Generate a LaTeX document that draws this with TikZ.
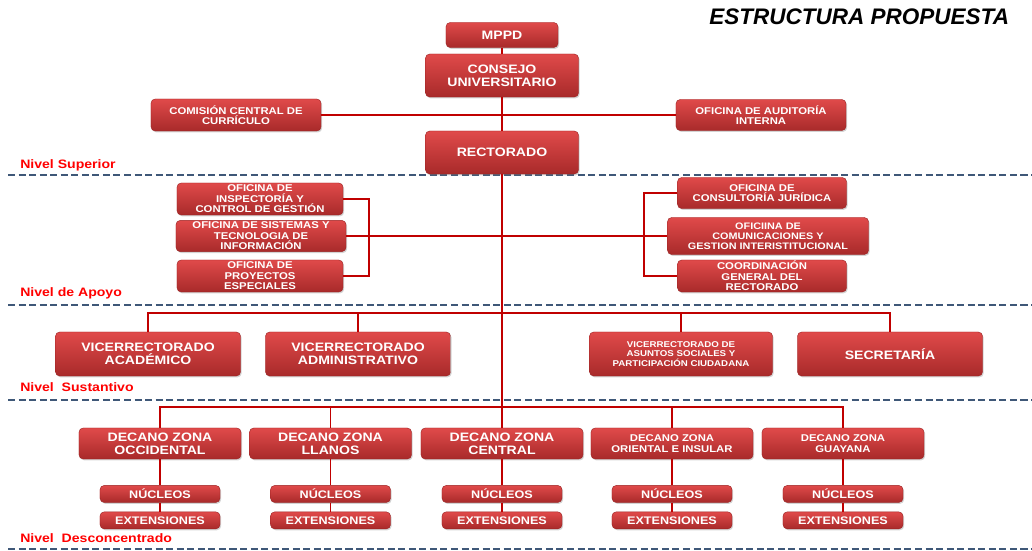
\documentclass[tikz,border=0pt]{standalone}
\usepackage{fontspec}
\setmainfont{Liberation Sans}[FakeStretch=1.15]
\newfontfamily\titlefont{Liberation Sans}
\usetikzlibrary{positioning, shadows}
\definecolor{boxtop}{HTML}{E04A4A}
\definecolor{boxbot}{HTML}{A82A2A}
\definecolor{boxedge}{HTML}{9A2222}
\definecolor{linkred}{HTML}{C00000}
\definecolor{sepblue}{HTML}{3F5878}
\definecolor{levelred}{HTML}{FF0000}

\begin{document}
\begin{tikzpicture}[
    x=0.025cm, y=-0.025cm,
    node distance=0.225cm,
    unit/.style={draw=boxedge, line width=0.3pt, rounded corners=3pt, top color=boxtop, bottom color=boxbot, text=white, align=center, inner sep=0pt, drop shadow={opacity=0.35, shadow xshift=0.8pt, shadow yshift=-1pt}},
    bigtxt/.style={font=\fontsize{8.7}{9.2}\selectfont\bfseries},
    midtxt/.style={font=\fontsize{7}{7.4}\selectfont\bfseries},
    smalltxt/.style={font=\fontsize{6}{6.6}\selectfont\bfseries},
    subbox/.style={unit, minimum width=3cm, minimum height=0.425cm, font=\fontsize{7.8}{8}\selectfont\bfseries},
    link/.style={draw=linkred, line width=1.3pt},
    sepline/.style={draw=sepblue, line width=1.2pt, dash pattern=on 5pt off 2.5pt},
    level/.style={anchor=west, text=levelred, inner sep=0pt, font=\fontsize{8.7}{9}\selectfont\bfseries},
]
\useasboundingbox (0,0) rectangle (1032,551);

% Level separators
\foreach \y in {175, 305, 400, 549} {
    \draw[sepline] (8,\y) -- (1032,\y);
}

\node[anchor=east, font=\titlefont\fontsize{16}{18}\selectfont\bfseries\itshape] (title) at (1014,17) {ESTRUCTURA PROPUESTA};

% Nivel Superior
\node[unit, bigtxt, minimum width=2.8cm, minimum height=0.625cm] (mppd) at (502,35) {MPPD};
\node[unit, bigtxt, minimum width=3.825cm, minimum height=1.075cm] (consejo) at (502,75.5) {CONSEJO\\UNIVERSITARIO};
\node[unit, midtxt, minimum width=4.25cm, minimum height=0.8cm] (comision) at (236,115) {COMISIÓN CENTRAL DE\\CURRÍCULO};
\node[unit, midtxt, minimum width=4.25cm, minimum height=0.775cm] (auditoria) at (761,115) {OFICINA DE AUDITORÍA\\INTERNA};
\node[unit, bigtxt, minimum width=3.825cm, minimum height=1.075cm] (rectorado) at (502,152.5) {RECTORADO};

% Nivel de Apoyo
\node[unit, midtxt, minimum width=4.15cm, minimum height=0.8cm] (insp) at (260,199) {OFICINA DE\\INSPECTORÍA Y\\CONTROL DE GESTIÓN};
\node[unit, midtxt, minimum width=4.25cm, minimum height=0.78cm] (sist) at (261,236) {OFICINA DE SISTEMAS Y\\TECNOLOGIA DE\\INFORMACIÓN};
\node[unit, midtxt, minimum width=4.15cm, minimum height=0.8cm] (proy) at (260,276) {OFICINA DE\\PROYECTOS\\ESPECIALES};
\node[unit, midtxt, minimum width=4.225cm, minimum height=0.775cm] (consul) at (762,193) {OFICINA DE\\CONSULTORÍA JURÍDICA};
\node[unit, font=\fontsize{6.7}{7.1}\selectfont\bfseries, minimum width=5.025cm, minimum height=0.925cm] (comunic) at (768,236) {OFICIINA DE\\COMUNICACIONES Y\\GESTION INTERISTITUCIONAL};
\node[unit, midtxt, minimum width=4.225cm, minimum height=0.8cm] (coord) at (762,276) {COORDINACIÓN\\GENERAL DEL\\RECTORADO};

% Nivel Sustantivo
\node[unit, bigtxt, minimum width=4.625cm, minimum height=1.1cm] (vaca) at (148,354) {VICERRECTORADO\\ACADÉMICO};
\node[unit, bigtxt, minimum width=4.625cm, minimum height=1.1cm] (vadm) at (358,354) {VICERRECTORADO\\ADMINISTRATIVO};
\node[unit, smalltxt, minimum width=4.575cm, minimum height=1.1cm] (vasoc) at (681,354) {VICERRECTORADO DE\\ASUNTOS SOCIALES Y\\PARTICIPACIÓN CIUDADANA};
\node[unit, bigtxt, minimum width=4.625cm, minimum height=1.1cm] (secre) at (890,354) {SECRETARÍA};

% Nivel Desconcentrado
\node[unit, bigtxt, minimum width=4.05cm, minimum height=0.775cm] (occ) at (160,443.5) {DECANO ZONA\\OCCIDENTAL};
\node[unit, bigtxt, minimum width=4.05cm, minimum height=0.775cm] (lla) at (330.5,443.5) {DECANO ZONA\\LLANOS};
\node[unit, bigtxt, minimum width=4.05cm, minimum height=0.775cm] (cen) at (502,443.5) {DECANO ZONA\\CENTRAL};
\node[unit, midtxt, minimum width=4.05cm, minimum height=0.775cm] (ori) at (672,443.5) {DECANO ZONA\\ORIENTAL E INSULAR};
\node[unit, midtxt, minimum width=4.05cm, minimum height=0.775cm] (guy) at (843,443.5) {DECANO ZONA\\GUAYANA};

\coordinate (brl) at (369,236);
\coordinate (brr) at (644,236);
\coordinate (sbar) at (502,313);
\coordinate (dbar) at (502,407);

\draw[link] (mppd) -- (consejo);
\draw[link] (consejo) -- (rectorado);
\draw[link] (comision) -- (auditoria);
\draw[link] (rectorado) -- (cen);
\draw[link] (insp.east) -| (brl) |- (proy.east);
\draw[link] (consul.west) -| (brr) |- (coord.west);
\draw[link] (sist) -- (comunic);
\draw[link] (vaca.north) |- (sbar) -| (secre.north);
\draw[link] (occ.north) |- (dbar) -| (guy.north);
\foreach \n in {vadm, vasoc} {
    \draw[link] (\n.north) -- (\n.north |- sbar);
}
\foreach \n in {lla, ori} {
    \draw[link] (\n.north) -- (\n.north |- dbar);
}

\foreach \z in {occ, lla, cen, ori, guy} {
    \node[subbox, below=0.65cm of \z] (\z-nuc) {NÚCLEOS};
    \node[subbox, below=of \z-nuc] (\z-ext) {EXTENSIONES};
    \draw[link] (\z) -- (\z-nuc);
    \draw[link] (\z-nuc) -- (\z-ext);
}

% Level labels
\node[level] (lsup) at (20,165) {Nivel Superior};
\node[level] (lapo) at (20,293) {Nivel de Apoyo};
\node[level] (lsus) at (20,387) {Nivel\ \ Sustantivo};
\node[level] (ldes) at (20,538) {Nivel\ \ Desconcentrado};

\end{tikzpicture}
\end{document}
